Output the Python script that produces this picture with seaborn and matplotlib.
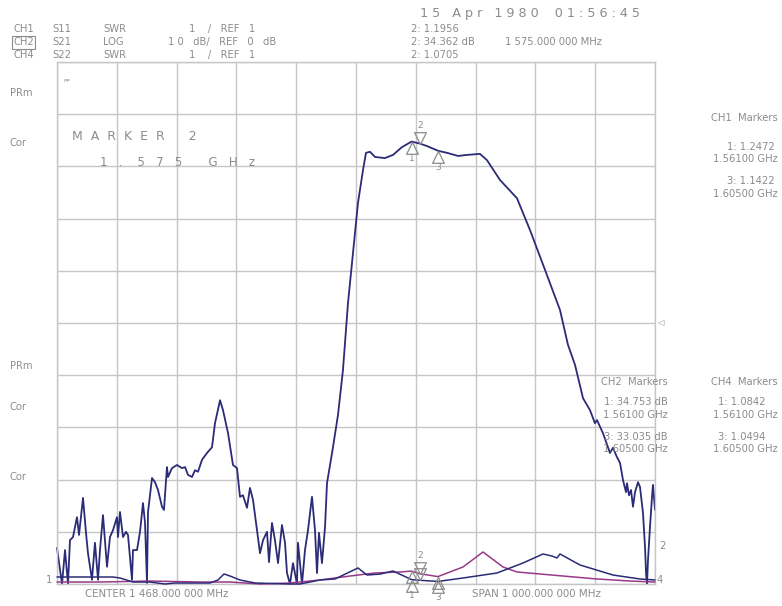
import numpy as np
import matplotlib
matplotlib.use("Agg")
import matplotlib.pyplot as plt
from matplotlib.path import Path
import seaborn as sns

# CH2  S21  LOG  10 dB/div, REF 0 dB on the centre line
s21_mhz = [968.0, 976.4, 981.4, 986.4, 989.7, 994.8, 1001.4, 1004.8, 1011.5, 1016.5,
           1019.8, 1026.5, 1031.5, 1036.6, 1039.9, 1044.9, 1051.6, 1056.6, 1061.6, 1068.3,
           1070.0, 1073.3, 1078.4, 1083.4, 1086.7, 1093.4, 1095.1, 1101.8, 1106.8, 1111.8,
           1115.2, 1118.5, 1120.2, 1126.9, 1131.9, 1136.9, 1143.6, 1146.9, 1151.9, 1153.6,
           1160.3, 1168.7, 1177.0, 1182.0, 1187.1, 1193.7, 1198.8, 1203.8, 1210.5, 1218.8,
           1227.2, 1232.2, 1240.6, 1245.6, 1254.0, 1262.3, 1269.0, 1274.0, 1279.0, 1285.7,
           1290.7, 1295.8, 1302.4, 1307.5, 1312.5, 1319.2, 1322.5, 1327.5, 1332.5, 1337.6,
           1344.2, 1349.3, 1352.6, 1357.6, 1362.6, 1369.3, 1371.0, 1377.7, 1382.7, 1387.7,
           1394.4, 1399.4, 1402.8, 1406.1, 1411.1, 1416.2, 1419.5, 1429.5, 1437.9, 1446.2,
           1454.6, 1463.0, 1471.3, 1479.7, 1484.7, 1491.4, 1499.8, 1516.5, 1529.9, 1544.9,
           1561.0, 1575.0, 1586.7, 1605.0, 1620.2, 1638.6, 1653.6, 1675.3, 1687.0, 1708.8,
           1737.2, 1759.0, 1784.0, 1809.1, 1822.5, 1834.2, 1847.6, 1859.3, 1867.6, 1871.0,
           1881.0, 1889.4, 1892.7, 1897.7, 1904.4, 1909.5, 1914.5, 1919.5, 1921.2, 1924.5,
           1927.9, 1931.2, 1934.6, 1939.6, 1942.9, 1947.9, 1951.3, 1953.0, 1954.6, 1956.3,
           1959.6, 1963.0, 1964.6, 1968.0]
s21_db = [-43.1, -50.0, -43.5, -50.0, -41.6, -41.0, -37.2, -40.6, -33.5, -40.2,
          -44.1, -49.2, -42.1, -49.2, -43.5, -36.8, -46.7, -41.0, -39.7, -37.2,
          -41.0, -36.2, -41.0, -40.0, -40.6, -49.2, -43.5, -43.5, -40.0, -34.5,
          -38.3, -49.8, -36.2, -29.7, -30.5, -32.0, -35.2, -35.8, -27.6, -29.5,
          -27.8, -27.2, -27.8, -27.6, -29.1, -29.5, -28.2, -28.5, -26.2, -24.9,
          -23.8, -19.2, -14.8, -16.7, -21.1, -27.2, -27.8, -33.3, -33.0, -35.4,
          -31.6, -33.9, -39.7, -44.1, -41.6, -40.0, -45.8, -38.3, -41.6, -46.0,
          -38.7, -42.1, -47.9, -50.0, -46.0, -50.0, -42.1, -50.0, -43.5, -39.7,
          -33.3, -39.7, -47.9, -40.2, -46.0, -39.1, -30.7, -23.8, -17.6, -9.0,
          3.8, 13.4, 23.0, 29.3, 32.6, 32.8, 31.8, 31.6, 32.2, 33.7,
          34.75, 34.36, 33.9, 33.0, 32.6, 32.0, 32.2, 32.4, 31.2, 27.4,
          23.9, 17.8, 10.2, 2.5, -4.2, -8.0, -14.4, -16.7, -19.2, -18.6,
          -21.1, -23.8, -24.9, -23.9, -25.7, -26.8, -30.1, -32.4, -30.7, -33.0,
          -32.0, -35.2, -32.4, -30.5, -31.4, -36.4, -42.9, -47.9, -50.0, -45.4,
          -39.1, -33.3, -31.0, -35.8]

# CH1  S11  SWR  1/div, REF 1 at the bottom line
s11_mhz = [968.0, 1039.9, 1123.5, 1207.1, 1257.3, 1307.5, 1357.6, 1407.8, 1458.0, 1499.8,
           1541.6, 1561.0, 1575.0, 1605.0, 1646.9, 1680.4, 1713.8, 1737.2, 1814.1, 1871.0,
           1926.2, 1968.0]
s11_swr = [1.038, 1.038, 1.057, 1.038, 1.038, 1.0, 1.019, 1.077, 1.153, 1.211,
           1.23, 1.247, 1.196, 1.142, 1.326, 1.613, 1.326, 1.23, 1.153, 1.096,
           1.057, 1.038]

# CH4  S22  SWR  1/div, REF 1 at the bottom line
s22_mhz = [968.0, 1006.5, 1061.6, 1073.3, 1095.1, 1123.5, 1148.6, 1165.3, 1190.4, 1223.8,
           1237.2, 1247.3, 1257.3, 1274.0, 1299.1, 1357.6, 1374.3, 1391.1, 1407.8, 1432.9,
           1471.3, 1486.4, 1508.1, 1529.9, 1561.0, 1575.0, 1605.0, 1646.9, 1703.8, 1747.2,
           1780.7, 1795.8, 1804.1, 1809.1, 1842.6, 1897.7, 1942.9, 1968.0]
s22_swr = [1.134, 1.134, 1.134, 1.115, 1.038, 1.038, 1.0, 1.019, 1.019, 1.019,
           1.077, 1.192, 1.153, 1.077, 1.019, 1.0, 1.0, 1.038, 1.077, 1.096,
           1.307, 1.172, 1.19, 1.249, 1.084, 1.071, 1.049, 1.115, 1.211, 1.402,
           1.575, 1.536, 1.498, 1.575, 1.364, 1.172, 1.096, 1.077]

marker_mhz = [1561.0, 1575.0, 1605.0]
ch1_marker = [1.2472, 1.1956, 1.1422]
ch2_marker = [34.753, 34.362, 33.035]
ch4_marker = [1.0842, 1.0705, 1.0494]

center_mhz = 1468
span_mhz = 1000

W, H = 782, 606
navy = "#2b2b78"
magenta = "#983a88"
grey = "#8c8c8c"
gridc = "#c6c6c6"

sns.set_style("white")
fig = plt.figure(figsize=(W / 100, H / 100), dpi=100)
ax = fig.add_axes([57 / W, 1 - 584 / H, 598 / W, 522 / H])

f0 = center_mhz - span_mhz / 2
f1 = center_mhz + span_mhz / 2
ax.set_xlim(f0, f1)
ax.set_ylim(-50, 50)
ax.set_xticks(np.linspace(f0, f1, 11))
ax.set_yticks(np.linspace(-50, 50, 11))
ax.grid(True, color=gridc, lw=1)
ax.tick_params(length=0, labelbottom=False, labelleft=False)
for sp in ax.spines.values():
    sp.set_color(gridc)
    sp.set_linewidth(1)

ax2 = ax.twinx()
ax2.set_ylim(1, 11)
ax2.set_axis_off()

sns.lineplot(x=s11_mhz, y=s11_swr, ax=ax2, color=magenta, lw=1.1, estimator=None, clip_on=False)
sns.lineplot(x=s22_mhz, y=s22_swr, ax=ax2, color=navy, lw=1.1, estimator=None, clip_on=False)
sns.lineplot(x=s21_mhz, y=s21_db, ax=ax, color=navy, lw=1.3, estimator=None, clip_on=False)

# hollow marker triangles, apex on the trace
tri_up = Path([(0, 0), (-0.55, -1.1), (0.55, -1.1), (0, 0)], closed=True)
tri_dn = Path([(0, 0), (-0.55, 1.1), (0.55, 1.1), (0, 0)], closed=True)
mk = dict(ls="none", ms=17, mfc="none", mec=grey, mew=0.9, clip_on=False)


def markers(a, vals, n_up=True, n_dn=True, up_off=10, dn_off=-9):
    for i, (f, v) in enumerate(zip(marker_mhz, vals)):
        if i == 1:
            a.plot([f], [v], marker=tri_dn, **mk)
            if n_up:
                a.annotate("2", xy=(f, v), xytext=(0, up_off), textcoords="offset points",
                           ha="center", va="bottom", color=grey, fontsize=6.5)
        else:
            a.plot([f], [v], marker=tri_up, **mk)
            if n_dn:
                a.annotate(str(i + 1), xy=(f, v), xytext=(0, dn_off), textcoords="offset points",
                           ha="center", va="top", color=grey, fontsize=6.5)


markers(ax, ch2_marker)
markers(ax2, ch1_marker, n_up=True, n_dn=False, up_off=10)
markers(ax2, ch4_marker, n_up=False, n_dn=True, dn_off=-8)


def put(x, y, s, size=7.2, ha="left", **kw):
    fig.text(x / W, 1 - y / H, s, color=grey, fontsize=size, ha=ha, va="center", **kw)


# header
put(13, 29, "CH1")
put(13, 42, "CH2", bbox=dict(boxstyle="square,pad=0.15", fc="none", ec=grey, lw=0.8))
put(13, 55, "CH4")
put(52, 29, "S11")
put(52, 42, "S21")
put(52, 55, "S22")
put(103, 29, "SWR")
put(103, 42, "LOG")
put(103, 55, "SWR")
put(189, 29, "1    /   REF   1")
put(168, 42, "1 0   dB/   REF   0   dB")
put(189, 55, "1    /   REF   1")
put(420, 13, "1 5   A p r   1 9 8 0    0 1 : 5 6 : 4 5", size=9.2)
put(411, 29, "2: 1.1956")
put(411, 42, "2: 34.362 dB")
put(505, 42, "1 575.000 000 MHz")
put(411, 55, "2: 1.0705")

# left labels
put(63, 82, "ᵖᵖ", size=6)
for yy, s in [(93, "PRm"), (143, "Cor"), (366, "PRm"), (407, "Cor"), (477, "Cor")]:
    put(10, yy, s)
put(72, 137, "M  A  R  K  E  R      2", size=9)
put(100, 162, "1   .    5   7   5       G   H   z", size=8.5)

# marker readouts on the right
put(778, 118, "CH1  Markers", ha="right")
put(775, 147, "1: 1.2472", ha="right")
put(778, 159, "1.56100 GHz", ha="right")
put(775, 181, "3: 1.1422", ha="right")
put(778, 194, "1.60500 GHz", ha="right")
put(668, 382, "CH2  Markers", ha="right")
put(668, 402, "1: 34.753 dB", ha="right")
put(668, 415, "1.56100 GHz", ha="right")
put(668, 437, "3: 33.035 dB", ha="right")
put(668, 449, "1.60500 GHz", ha="right")
put(778, 382, "CH4  Markers", ha="right")
put(765, 402, "1: 1.0842", ha="right")
put(778, 415, "1.56100 GHz", ha="right")
put(765, 437, "3: 1.0494", ha="right")
put(778, 449, "1.60500 GHz", ha="right")

# footer and edge tags
put(85, 594, "CENTER 1 468.000 000 MHz", size=7.4)
put(472, 594, "SPAN 1 000.000 000 MHz", size=7.4)
put(657, 323, "◁", size=6)
put(659, 546, "2")
put(657, 580, "4")
put(46, 580, "1")

fig.savefig("out.png", dpi=100)
